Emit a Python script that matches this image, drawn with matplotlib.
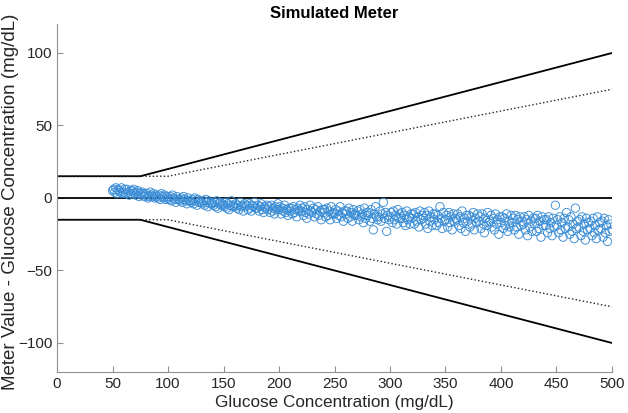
import matplotlib
matplotlib.use("Agg")
import matplotlib.pyplot as plt
import numpy as np

plt.rcParams['font.family'] = ['Liberation Sans', 'DejaVu Sans']

# Scatter data: glucose concentration (mg/dL) and meter error (mg/dL)
glucose = list(range(50, 501))
error = [
    5, 6, 4, 7, 3, 6, 5, 4, 7, 3,
    4, 6, 3, 6, 4, 2, 5, 3, 5, 6,
    3, 2, 4, 5, 1, 3, 2, 4, 3, 1,
    2, 3, 0, 1, 4, 2, 1, 3, 0, 2,
    1, 0, 2, -1, 3, 1, 0, 2, -1, 1,
    0, -1, 1, -2, 2, 0, -1, -3, 1, -1,
    -1, -2, 0, -3, 1, -1, -2, -4, 0, -2,
    -2, -3, -1, -4, 0, -2, -5, -1, -3, -2,
    -3, -4, -2, -5, -1, -3, -6, -2, -4, -3,
    -4, -5, -3, -6, -2, -7, -4, -3, -5, -4,
    -5, -6, -3, -7, -4, -8, -5, -2, -6, -5,
    -6, -4, -7, -5, -8, -3, -6, -5, -9, -4,
    -6, -5, -8, -4, -7, -9, -5, -6, -3, -7,
    -7, -5, -9, -6, -4, -8, -10, -6, -7, -5,
    -8, -6, -10, -5, -9, -7, -11, -6, -8, -4,
    -8, -6, -11, -7, -9, -5, -10, -8, -12, -7,
    -9, -7, -11, -6, -10, -8, -13, -7, -9, -5,
    -9, -7, -12, -6, -10, -14, -8, -11, -5, -9,
    -10, -7, -13, -8, -11, -6, -12, -9, -15, -8,
    -10, -8, -13, -7, -12, -9, -15, -6, -11, -10,
    -11, -8, -14, -9, -12, -6, -13, -10, -16, -9,
    -11, -9, -14, -7, -13, -10, -16, -8, -12, -11,
    -12, -9, -15, -8, -13, -11, -17, -7, -14, -10,
    -12, -10, -16, -8, -14, -22, -11, -6, -13, -15,
    -13, -9, -16, -11, -3, -14, -10, -23, -12, -15,
    -13, -10, -17, -9, -15, -12, -18, -8, -14, -11,
    -14, -10, -17, -12, -19, -9, -15, -13, -18, -11,
    -14, -11, -18, -10, -16, -13, -20, -9, -15, -12,
    -14, -10, -18, -12, -21, -9, -16, -13, -19, -11,
    -15, -11, -19, -12, -17, -6, -14, -21, -10, -16,
    -15, -12, -20, -10, -17, -13, -22, -11, -16, -14,
    -15, -11, -19, -13, -21, -9, -17, -14, -23, -12,
    -16, -12, -20, -13, -18, -10, -22, -14, -17, -11,
    -16, -13, -21, -11, -18, -24, -14, -19, -10, -17,
    -16, -12, -20, -14, -22, -11, -18, -15, -25, -13,
    -17, -13, -21, -14, -19, -11, -23, -16, -20, -12,
    -17, -14, -22, -12, -20, -15, -25, -13, -19, -16,
    -18, -13, -22, -15, -26, -12, -20, -16, -23, -14,
    -18, -14, -23, -12, -21, -16, -27, -13, -19, -15,
    -19, -15, -24, -13, -21, -17, -26, -14, -20, -5,
    -19, -15, -24, -13, -22, -17, -27, -14, -21, -10,
    -20, -15, -25, -13, -23, -18, -28, -7, -21, -16,
    -20, -15, -26, -13, -23, -18, -29, -14, -22, -17,
    -21, -16, -26, -14, -24, -19, -28, -13, -22, -17,
    -21, -16, -27, -14, -24, -19, -30, -15, -23, -18,
    -22,
]

# Error limit boundaries (x breakpoints and limits)
outer_x = [0, 75, 500]
outer_upper = [15, 15, 100]
outer_lower = [-15, -15, -100]
inner_x = [0, 100, 500]
inner_upper = [15, 15, 75]
inner_lower = [-15, -15, -75]
zero_x = [0, 500]
zero_y = [0, 0]

x_ticks = [0, 50, 100, 150, 200, 250, 300, 350, 400, 450, 500]
y_ticks = [-100, -50, 0, 50, 100]

fig = plt.figure(figsize=(6.28, 4.13), dpi=100)
ax = fig.add_axes([0.0908, 0.0993, 0.8837, 0.8426])

ax.plot(outer_x, outer_upper, color='black', lw=1.3)
ax.plot(outer_x, outer_lower, color='black', lw=1.3)
ax.plot(inner_x, inner_upper, color='#222222', lw=1.0, ls=':')
ax.plot(inner_x, inner_lower, color='#222222', lw=1.0, ls=':')
ax.plot(zero_x, zero_y, color='black', lw=1.3)

ax.scatter(glucose, error, s=36, facecolors='none', edgecolors='#3a8dd6',
           linewidths=0.65, zorder=3)

ax.set_xlim(0, 500)
ax.set_ylim(-120, 120)
ax.set_xticks(x_ticks)
ax.set_yticks(y_ticks)

for side in ['top', 'right']:
    ax.spines[side].set_visible(False)
for side in ['left', 'bottom']:
    ax.spines[side].set_color('#909090')
    ax.spines[side].set_linewidth(0.8)

ax.tick_params(direction='in', length=4, width=0.8, color='#909090',
               labelsize=11, labelcolor='#262626', pad=3.5)

ax.set_xlabel('Glucose Concentration (mg/dL)', fontsize=12.3, color='#262626', labelpad=3)
ax.set_ylabel('Meter Value - Glucose Concentration (mg/dL)', fontsize=13.5,
              color='#262626')
ax.yaxis.set_label_coords(-0.069, 0.488)
fig.text(0.5327, 1 - 13.5 / 413, 'Simulated Meter', fontsize=12, fontweight='bold',
         ha='center', va='center')

fig.savefig('out.png', dpi=100)
